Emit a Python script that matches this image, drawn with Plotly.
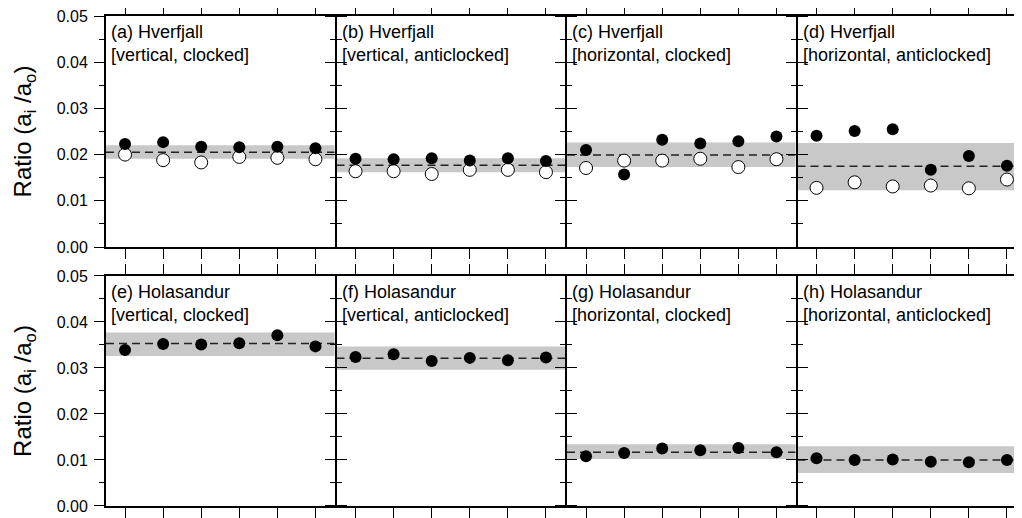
import plotly.graph_objects as go

# ---------------- data ----------------
samples = [1, 2, 3, 4, 5, 6]

panel_titles = [
    "(a) Hverfjall<br>[vertical, clocked]",
    "(b) Hverfjall<br>[vertical, anticlocked]",
    "(c) Hverfjall<br>[horizontal, clocked]",
    "(d) Hverfjall<br>[horizontal, anticlocked]",
    "(e) Holasandur<br>[vertical, clocked]",
    "(f) Holasandur<br>[vertical, anticlocked]",
    "(g) Holasandur<br>[horizontal, clocked]",
    "(h) Holasandur<br>[horizontal, anticlocked]",
]

a_filled = [0.0223, 0.0227, 0.0217, 0.0216, 0.0217, 0.0214]
a_open = [0.0200, 0.0188, 0.0183, 0.0195, 0.0193, 0.0190]
b_filled = [0.0191, 0.0190, 0.0192, 0.0187, 0.0192, 0.0186]
b_open = [0.0164, 0.0164, 0.0158, 0.0167, 0.0167, 0.0162]
c_filled = [0.0210, 0.0157, 0.0232, 0.0224, 0.0229, 0.0239]
c_open = [0.0171, 0.0187, 0.0187, 0.0191, 0.0173, 0.0190]
d_filled = [0.0241, 0.0251, 0.0255, 0.0167, 0.0197, 0.0176]
d_open = [0.0128, 0.0140, 0.0131, 0.0133, 0.0127, 0.0146]
e_filled = [0.0339, 0.0352, 0.0351, 0.0354, 0.0371, 0.0347]
f_filled = [0.0324, 0.0330, 0.0315, 0.0322, 0.0317, 0.0323]
g_filled = [0.0108, 0.0115, 0.0125, 0.0121, 0.0126, 0.0117]
h_filled = [0.0104, 0.0100, 0.0101, 0.0096, 0.0095, 0.0100]

filled_series = [a_filled, b_filled, c_filled, d_filled,
                 e_filled, f_filled, g_filled, h_filled]
open_series = [a_open, b_open, c_open, d_open, None, None, None, None]

mean_ratio = [0.0205, 0.0177, 0.0199, 0.0175, 0.0353, 0.0321, 0.0117, 0.0100]
band_low = [0.0191, 0.0162, 0.0173, 0.0123, 0.0326, 0.0296, 0.0102, 0.0072]
band_high = [0.0220, 0.0192, 0.0226, 0.0225, 0.0377, 0.0347, 0.0134, 0.0130]

y_ticks = [0.00, 0.01, 0.02, 0.03, 0.04, 0.05]

# ---------------- layout geometry ----------------
INNER = 228.5   # px width of each panel interior
GAP = 2.0       # px between panel interiors (shared frame line)
PLOT_W = 4 * INNER + 3 * GAP
x_domains = []
for c in range(4):
    x0 = c * (INNER + GAP) / PLOT_W
    x1 = min(1.0, (c * (INNER + GAP) + INNER) / PLOT_W)
    x_domains.append([x0, x1])
y_domains = [[0.52857, 1.0], [0.0, 0.46939]]

FONT = "Liberation Sans, Arial, Helvetica, sans-serif"

fig = go.Figure()
layout = dict(
    width=1022, height=518,
    margin=dict(l=98, r=1022 - 98 - PLOT_W, t=8, b=20, autoexpand=False),
    paper_bgcolor="white", plot_bgcolor="white",
    showlegend=False,
    font=dict(family=FONT, color="black"),
)
shapes = []
annotations = []

for i in range(8):
    r, c = divmod(i, 4)
    ax = "" if i == 0 else str(i + 1)
    xref, yref = "x" + ax, "y" + ax

    # band and mean line
    shapes.append(dict(type="rect", xref=xref + " domain", yref=yref,
                       x0=0, x1=1, y0=band_low[i], y1=band_high[i],
                       fillcolor="#c8c8c8", line=dict(width=0), layer="below"))
    shapes.append(dict(type="line", xref=xref + " domain", yref=yref,
                       x0=0, x1=1, y0=mean_ratio[i], y1=mean_ratio[i],
                       line=dict(color="#222222", width=1.5, dash="8px,5px"),
                       layer="below"))

    if open_series[i] is not None:
        fig.add_trace(go.Scatter(
            x=samples, y=open_series[i], mode="markers", xaxis=xref, yaxis=yref,
            marker=dict(size=13, color="white", line=dict(color="black", width=1)),
            cliponaxis=False))
    fig.add_trace(go.Scatter(
        x=samples, y=filled_series[i], mode="markers", xaxis=xref, yaxis=yref,
        marker=dict(size=12, color="black", line=dict(width=0)),
        cliponaxis=False))

    layout["xaxis" + ax] = dict(
        domain=x_domains[c], range=[0.5, 6.5], anchor=yref, automargin=False,
        tickmode="array", tickvals=samples, showticklabels=False,
        ticks="outside", ticklen=10, tickwidth=1, tickcolor="black",
        showline=True, linewidth=2, linecolor="black", mirror="ticks",
        showgrid=False, zeroline=False, fixedrange=True)
    layout["yaxis" + ax] = dict(
        domain=y_domains[r], range=[0, 0.05], anchor=xref, automargin=False,
        tickmode="array", tickvals=y_ticks, tickformat=".2f",
        showticklabels=(c == 0), ticklabelstandoff=3,
        ticklabeloverflow="allow",
        tickfont=dict(size=16, family=FONT, color="black"),
        ticks="outside", ticklen=10, tickwidth=1, tickcolor="black",
        minor=dict(dtick=0.005, tick0=0, ticks="outside", ticklen=5,
                   tickwidth=1, tickcolor="black"),
        showline=True, linewidth=2, linecolor="black", mirror="ticks",
        showgrid=False, zeroline=False, fixedrange=True)
    if c == 0:
        layout["yaxis" + ax]["title"] = dict(
            text="Ratio (a<sub>i</sub> /a<sub>o</sub>)",
            font=dict(size=24, family=FONT, color="black"), standoff=18)

    annotations.append(dict(
        xref=xref + " domain", yref=yref + " domain", x=0.0, y=1.0,
        xanchor="left", yanchor="top", xshift=3, yshift=-4,
        text=panel_titles[i], showarrow=False, align="left",
        font=dict(size=18, family=FONT, color="black")))

layout["shapes"] = shapes
layout["annotations"] = annotations
fig.update_layout(**layout)
fig.write_html("out.html")
